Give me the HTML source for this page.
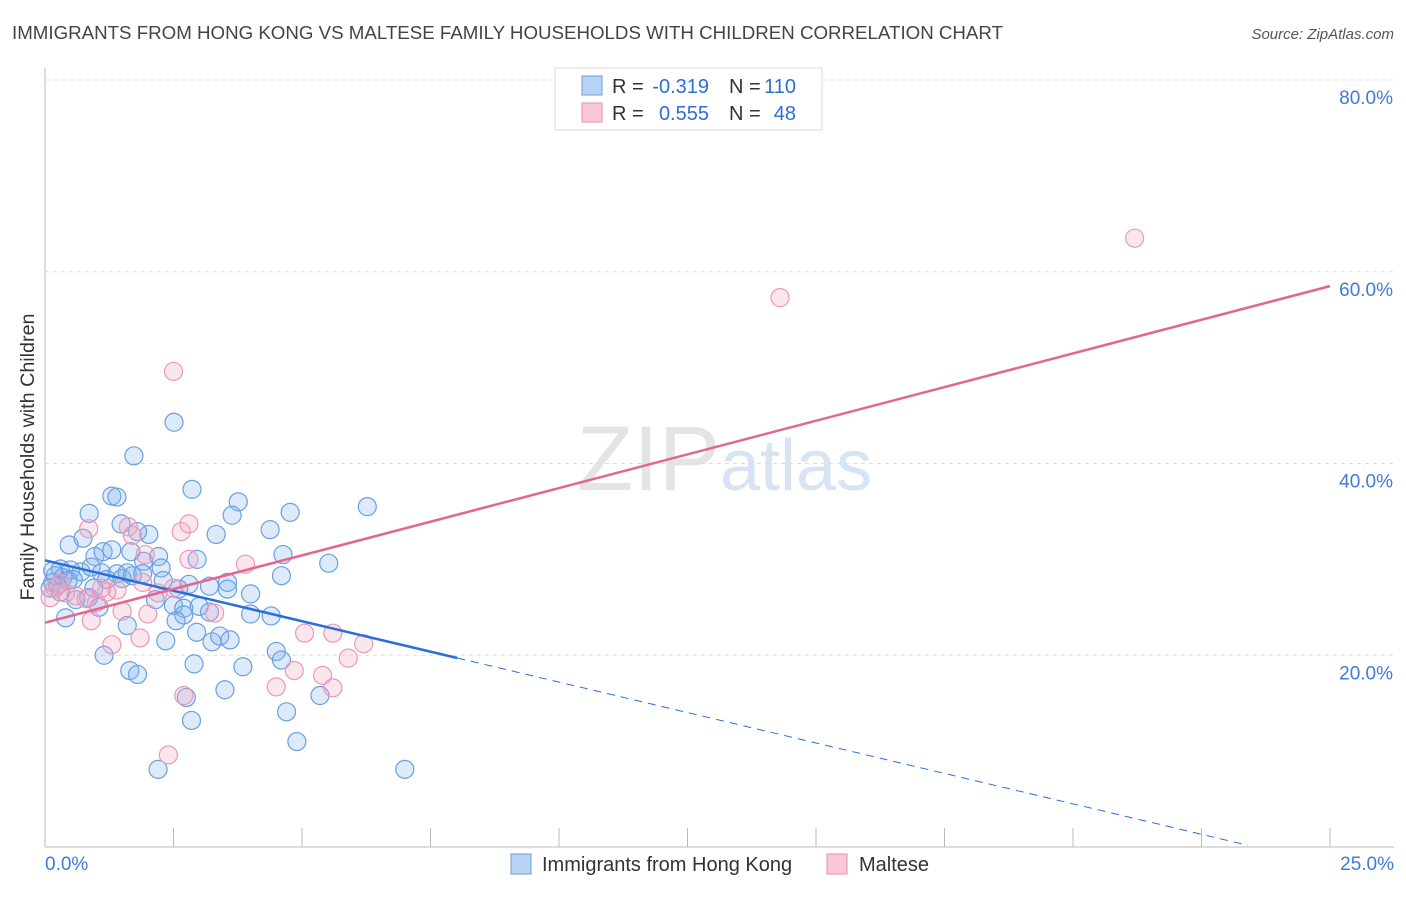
<!DOCTYPE html>
<html><head><meta charset="utf-8">
<style>
body{margin:0;background:#fff;font-family:"Liberation Sans",sans-serif;}
svg text{font-family:"Liberation Sans",sans-serif;}
</style></head>
<body>
<svg id="chart" width="1406" height="892" viewBox="0 0 1406 892" xmlns="http://www.w3.org/2000/svg">
<text x="12" y="39" font-size="18" fill="#444" textLength="991" lengthAdjust="spacingAndGlyphs">IMMIGRANTS FROM HONG KONG VS MALTESE FAMILY HOUSEHOLDS WITH CHILDREN CORRELATION CHART</text>
<text x="1394" y="39" font-size="15" fill="#555" text-anchor="end" font-style="italic">Source: ZipAtlas.com</text>
<text x="720" y="490" font-size="92" fill="#e4e4e4" text-anchor="end" font-family="Liberation Serif">ZIP</text>
<text x="720" y="490" font-size="72" fill="#d7e4f4">atlas</text>
<g id="grid"></g>
<g id="pts"></g>
<g id="lines"></g>
<text transform="translate(34,457) rotate(-90)" font-size="19" fill="#333" text-anchor="middle" textLength="287" lengthAdjust="spacingAndGlyphs">Family Households with Children</text>
<g>
<rect x="555" y="68" width="267" height="62" fill="#fff" stroke="#ddd"/>
<rect x="582" y="76" width="20" height="19" fill="#b9d3f3" stroke="#6b9ee0"/>
<rect x="582" y="103" width="20" height="19" fill="#f9c7d6" stroke="#e98fab"/>
<text x="612" y="93" font-size="20" fill="#333">R =</text>
<text x="709" y="93" font-size="20" fill="#2e6fd3" text-anchor="end">-0.319</text>
<text x="729" y="93" font-size="20" fill="#333">N =</text>
<text x="796" y="93" font-size="20" fill="#2e6fd3" text-anchor="end">110</text>
<text x="612" y="120" font-size="20" fill="#333">R =</text>
<text x="709" y="120" font-size="20" fill="#2e6fd3" text-anchor="end">0.555</text>
<text x="729" y="120" font-size="20" fill="#333">N =</text>
<text x="796" y="120" font-size="20" fill="#2e6fd3" text-anchor="end">48</text>
</g>
<g>
<rect x="511" y="854" width="20" height="20" fill="#b9d3f3" stroke="#6b9ee0"/>
<text x="542" y="871" font-size="20" fill="#333">Immigrants from Hong Kong</text>
<rect x="827" y="854" width="20" height="20" fill="#f9c7d6" stroke="#e98fab"/>
<text x="859" y="871" font-size="20" fill="#333">Maltese</text>
</g>
</svg>
<script>
const xTicks=[0,2.5,5,7.5,10,12.5,15,17.5,20,22.5,25];
const yTicks=[20,40,60,80];
const blueX=[2.51,1.73,2.86,1.30,1.40,3.76,6.27,0.86,3.64,4.77,1.48,4.38,3.33,2.02,1.80,0.74,0.47,0.97,1.13,1.67,1.30,2.21,1.92,2.96,4.63,5.52,2.26,0.30,0.50,0.70,0.90,1.10,1.40,1.60,1.90,0.20,0.35,0.55,0.15,0.25,0.45,1.20,1.50,1.70,2.30,2.80,3.20,3.55,3.55,4.60,2.60,0.95,0.85,1.05,2.15,2.50,2.70,2.70,3.00,3.20,4.00,4.40,4.00,0.40,1.60,2.55,2.95,3.25,3.40,3.60,2.35,4.50,4.60,3.85,2.90,1.65,1.80,1.15,3.50,2.75,5.35,4.70,2.85,4.90,2.20,7.00,0.15,0.10,0.60,0.30];
const blueY=[44.3,40.8,37.3,36.6,36.5,36.0,35.5,34.8,34.6,34.9,33.7,33.1,32.6,32.6,32.9,32.2,31.5,30.3,30.8,30.8,31.0,30.3,29.8,30.0,30.5,29.6,29.1,29.0,28.9,28.7,29.2,28.6,28.5,28.6,28.5,28.3,28.1,27.9,27.6,27.3,27.8,27.9,28.0,28.3,27.8,27.4,27.2,27.6,26.9,28.3,26.9,27.0,26.0,25.0,25.8,25.2,24.9,24.2,25.1,24.5,24.3,24.1,26.4,23.9,23.1,23.6,22.4,21.4,22.0,21.6,21.5,20.4,19.5,18.8,19.1,18.4,18.0,20.0,16.4,15.6,15.8,14.1,13.2,11.0,8.1,8.1,28.8,27.0,25.8,26.6];
const pinkX=[21.2,14.3,2.50,2.65,2.80,1.62,1.70,0.85,3.90,2.80,1.95,1.90,2.50,0.20,0.40,0.60,0.80,1.20,1.40,1.00,1.50,2.00,3.30,0.90,1.85,1.30,5.60,5.05,6.20,5.90,4.85,5.40,5.60,4.50,2.70,2.40,0.10,0.30,1.10,2.20];
const pinkY=[63.5,57.3,49.6,32.9,33.7,33.4,32.5,33.2,29.5,30.0,30.5,27.6,27.0,27.0,26.5,26.2,25.9,26.6,26.8,25.5,24.6,24.3,24.4,23.6,21.8,21.1,22.3,22.3,21.2,19.7,18.4,17.9,16.6,16.7,15.8,9.6,26.0,27.5,27.0,26.5];
const blueFit=[29.9,-1.27];
const pinkFit=[23.4,1.404];
const NS="http://www.w3.org/2000/svg";
const sx=v=>45+v/25*1285;
const sy=v=>847-v/20*191.75;
function mk(tag,attrs,parent){const e=document.createElementNS(NS,tag);for(const k in attrs)e.setAttribute(k,attrs[k]);parent.appendChild(e);return e;}
const grid=document.getElementById('grid');
mk('line',{x1:45,y1:68,x2:45,y2:847,stroke:'#bbb'},grid);
mk('line',{x1:45,y1:847,x2:1394,y2:847,stroke:'#bbb'},grid);
yTicks.forEach(t=>{
  const l=mk('line',{x1:45,x2:1394,y1:sy(t),y2:sy(t),stroke:'#ddd','stroke-dasharray':'4,4'},grid);
  
  
  const tx=mk('text',{x:1393,y:sy(t)+24,'font-size':19,fill:'#3d7bd9','text-anchor':'end'},grid);
  tx.textContent=t.toFixed(1)+'%';
  
  
});
xTicks.forEach(t=>{
  if(t===0)return;
  const l=mk('line',{x1:sx(t),x2:sx(t),y1:828,y2:847,stroke:'#bbb'},grid);
  
  
});
[[0,'start',45],[25,'end',1394]].forEach(([v,a,x])=>{
  const tx=mk('text',{x:x,y:870,'font-size':19,fill:'#3d7bd9','text-anchor':a},grid);
  tx.textContent=v.toFixed(1)+'%';
  
  
});
const pts=document.getElementById('pts');
blueX.forEach((x,i)=>{
  const c=mk('circle',{cx:sx(x),cy:sy(blueY[i]),r:9,fill:'rgba(130,178,238,0.28)',stroke:'#6a9fe2','stroke-width':1.2},pts);
  
  
});
pinkX.forEach((x,i)=>{
  const c=mk('circle',{cx:sx(x),cy:sy(pinkY[i]),r:9,fill:'rgba(245,165,195,0.28)',stroke:'#ec98b5','stroke-width':1.2},pts);
  
  
});
const lines=document.getElementById('lines');
const bx1=8.02, bx2=23.4;
const bl=mk('line',{x1:sx(0),y1:sy(blueFit[0]),x2:sx(bx1),y2:sy(blueFit[0]+blueFit[1]*bx1),stroke:'#2a6fd8','stroke-width':2.5},lines);


const bd=mk('line',{x1:sx(bx1),y1:sy(blueFit[0]+blueFit[1]*bx1),x2:sx(bx2),y2:sy(Math.max(0,blueFit[0]+blueFit[1]*bx2)),stroke:'#2a6fd8','stroke-width':1,'stroke-dasharray':'8,6'},lines);


const pl=mk('line',{x1:sx(0),y1:sy(pinkFit[0]),x2:sx(25),y2:sy(pinkFit[0]+pinkFit[1]*25),stroke:'#e2668f','stroke-width':2.5},lines);


</script>
</body></html>
